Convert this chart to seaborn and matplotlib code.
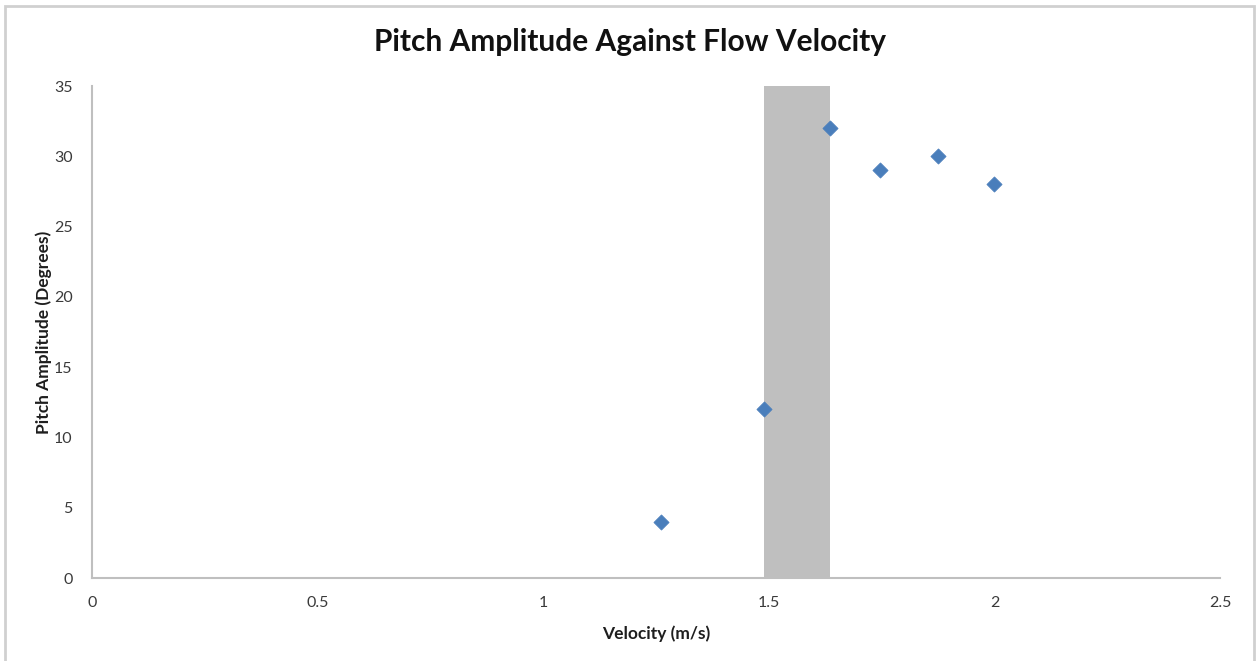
import matplotlib
matplotlib.use("Agg")
import matplotlib.pyplot as plt
import seaborn as sns
import pandas as pd
from matplotlib.patches import Rectangle

# Measured pitch amplitude for each flow velocity
velocity = [1.26, 1.49, 1.636, 1.747, 1.876, 2.0]
pitch_amplitude = [4, 12, 32, 29, 30, 28]

# Velocity range highlighted as a shaded band
band_range = [1.49, 1.636]

x_ticks = [0, 0.5, 1, 1.5, 2, 2.5]
x_tick_labels = ["0", "0.5", "1", "1.5", "2", "2.5"]
y_ticks = [0, 5, 10, 15, 20, 25, 30, 35]

sns.set_theme(style="white")
plt.rcParams["font.family"] = ["Lato", "DejaVu Sans"]

df = pd.DataFrame({"Velocity": velocity, "Pitch": pitch_amplitude})

fig = plt.figure(figsize=(12.56, 6.61), dpi=100)
ax = fig.add_axes([92 / 1256, 1 - 578 / 661, (1220 - 92) / 1256, (578 - 86) / 661])

ax.axvspan(band_range[0], band_range[1], color="#BFBFBF", zorder=1, lw=0)

sns.scatterplot(data=df, x="Velocity", y="Pitch", ax=ax, marker="D", s=60,
                color="#4A7EBB", edgecolor="#4A7EBB", linewidth=0.5, zorder=3)

ax.set_xlim(0, 2.5)
ax.set_ylim(0, 35)
ax.set_xticks(x_ticks)
ax.set_xticklabels(x_tick_labels)
ax.set_yticks(y_ticks)
ax.tick_params(axis="both", length=0, labelsize=11.5, labelcolor="#3A3A3A")
ax.tick_params(axis="x", pad=13)
ax.tick_params(axis="y", pad=14)

for side in ["top", "right"]:
    ax.spines[side].set_visible(False)
for side in ["left", "bottom"]:
    ax.spines[side].set_color("#BFBFBF")
    ax.spines[side].set_linewidth(1.5)

ax.set_xlabel("Velocity (m/s)", fontsize=12.5, fontweight="bold", labelpad=11, color="#1E1E1E")
ax.set_ylabel("Pitch Amplitude (Degrees)", fontsize=12.5, fontweight="bold", labelpad=1, color="#1E1E1E")

fig.text(630 / 1256, 1 - 42 / 661, "Pitch Amplitude Against Flow Velocity",
         ha="center", va="center", fontsize=21.5, fontweight="bold", color="#111111")

# Light frame around the whole chart area
fig.patches.append(Rectangle((5 / 1256, -0.01), 1249 / 1256, 1 - 6 / 661 + 0.01,
                             transform=fig.transFigure, fill=False,
                             edgecolor="#D0D0D0", linewidth=2))

fig.savefig("out.png", dpi=100, facecolor="white")
